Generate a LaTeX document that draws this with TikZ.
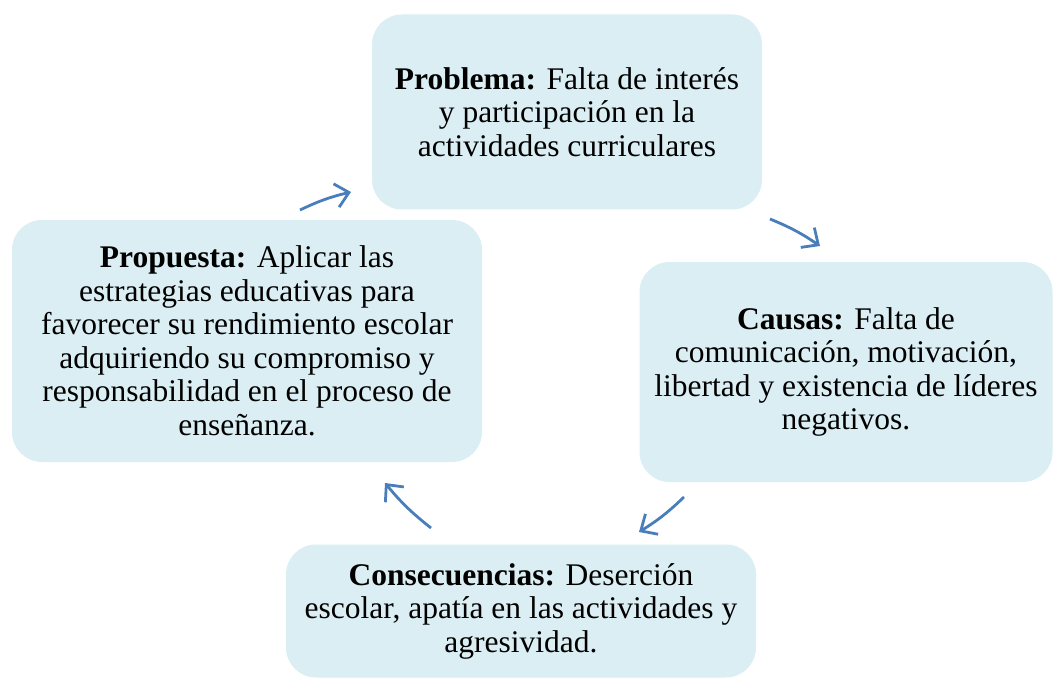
\documentclass[tikz,border=0pt]{standalone}
\usepackage{fontspec}
\setmainfont{Liberation Serif}
\usetikzlibrary{arrows.meta}
\definecolor{boxblue}{HTML}{DAEEF3}
\definecolor{arrowblue}{HTML}{4A7EBB}

\begin{document}
\begin{tikzpicture}[x=1pt,y=-1pt,
    box/.style={fill=boxblue,rounded corners=30pt,align=center,inner sep=0pt,
      font=\fontsize{31.5}{33.5}\selectfont},
    cyc/.style={draw=arrowblue,line width=2.8pt,
      -{Straight Barb[length=13pt,width=24pt]},bend left=6}]
\useasboundingbox (0,0) rectangle (1057,679);
\node[box,minimum width=390pt,minimum height=195pt] (problema) at (567,112)
  {\textbf{Problema:} Falta de interés\\y participación en la\\actividades curriculares};
\node[box,minimum width=413pt,minimum height=220pt] (causas) at (846,372)
  {\textbf{Causas:} Falta de\\comunicación, motivación,\\libertad y existencia de líderes\\negativos.};
\node[box,minimum width=470pt,minimum height=133pt] (consec) at (521,611)
  {\textbf{Consecuencias:} Deserción\\escolar, apatía en las actividades y\\agresividad.};
\node[box,minimum width=470pt,minimum height=242pt] (propuesta) at (247,341)
  {\textbf{Propuesta:} Aplicar las\\estrategias educativas para\\favorecer su rendimiento escolar\\adquiriendo su compromiso y\\responsabilidad en el proceso de\\enseñanza.};
\coordinate (pp1) at (300,210);
\coordinate (pp2) at (351,192);
\coordinate (pc1) at (770,219);
\coordinate (pc2) at (820,246);
\coordinate (cc1) at (684,497);
\coordinate (cc2) at (639,532);
\coordinate (cp1) at (431,528);
\coordinate (cp2) at (385,483);
\draw[cyc] (pp1) to (pp2);
\draw[cyc] (pc1) to (pc2);
\draw[cyc] (cc1) to (cc2);
\draw[cyc] (cp1) to (cp2);
\end{tikzpicture}
\end{document}
